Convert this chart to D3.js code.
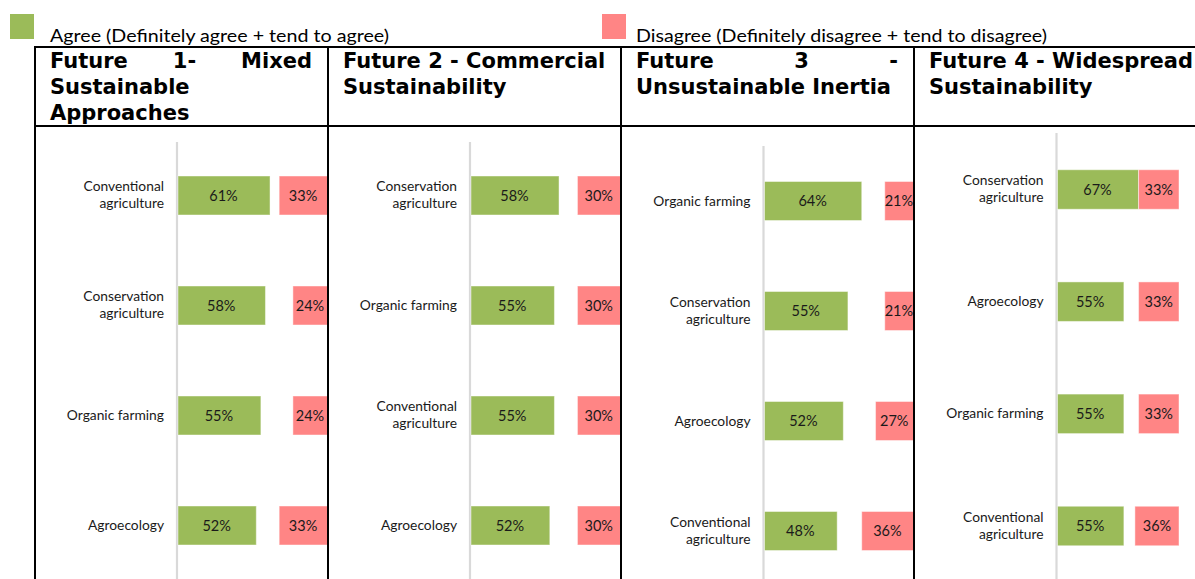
<!DOCTYPE html>
<html>
<head>
<meta charset="utf-8">
<script src="https://cdn.jsdelivr.net/npm/d3@7"></script>
<style>
  html, body { margin: 0; padding: 0; background: #fff; }
  svg { display: block; }
</style>
</head>
<body>
<svg id="chart" width="1195" height="579"></svg>
<script>
// ---------------- DATA ----------------
const seriesNames = ["Agree (Definitely agree + tend to agree)", "Disagree (Definitely disagree + tend to disagree)"];
const panelTitles = [
  ["Future 1- Mixed", "Sustainable", "Approaches"],
  ["Future 2 - Commercial", "Sustainability"],
  ["Future 3 -", "Unsustainable Inertia"],
  ["Future 4 - Widespread", "Sustainability"]
];
const justifiedFirstLine = [true, false, true, false];

const categories1 = ["Conventional agriculture", "Conservation agriculture", "Organic farming", "Agroecology"];
const agree1 = [61, 58, 55, 52];
const disagree1 = [33, 24, 24, 33];

const categories2 = ["Conservation agriculture", "Organic farming", "Conventional agriculture", "Agroecology"];
const agree2 = [58, 55, 55, 52];
const disagree2 = [30, 30, 30, 30];

const categories3 = ["Organic farming", "Conservation agriculture", "Agroecology", "Conventional agriculture"];
const agree3 = [64, 55, 52, 48];
const disagree3 = [21, 21, 27, 36];

const categories4 = ["Conservation agriculture", "Agroecology", "Organic farming", "Conventional agriculture"];
const agree4 = [67, 55, 55, 55];
const disagree4 = [33, 33, 33, 36];

// ---------------- LAYOUT ----------------
const W = 1195, H = 579;
const colors = { agree: "#9BBB59", disagree: "#FF8585", base: "#D9D9D9", text: "#1a1a1a" };
const tableTop = 47, headerBottom = 126;
const layout = [
  { x0: 35,  x1: 328,  base: 177,    full: 329.5, yTop: 195.5, yBot: 525.5, lineTop: 142, barH: 39 },
  { x0: 328, x1: 621,  base: 470,    full: 623.5, yTop: 195.5, yBot: 525.5, lineTop: 142, barH: 39 },
  { x0: 621, x1: 914,  base: 763.5,  full: 917,   yTop: 201,   yBot: 531,   lineTop: 146, barH: 39 },
  { x0: 914, x1: 1200, base: 1056.5, full: 1179,  yTop: 189.5, yBot: 526,   lineTop: 133, barH: 39.5 }
];
const panels = [
  { cats: categories1, agree: agree1, disagree: disagree1 },
  { cats: categories2, agree: agree2, disagree: disagree2 },
  { cats: categories3, agree: agree3, disagree: disagree3 },
  { cats: categories4, agree: agree4, disagree: disagree4 }
];

const svg = d3.select("#chart");
const labelFont = "Lato, 'Open Sans', sans-serif";
const headFont = "'DejaVu Sans', Verdana, sans-serif";

// ---------------- LEGEND ----------------
const legendItems = [
  { name: seriesNames[0], color: colors.agree, sx: 10, tx: 50, tw: 339 },
  { name: seriesNames[1], color: colors.disagree, sx: 602, tx: 636, tw: 411 }
];
const lg = svg.append("g");
lg.selectAll("rect").data(legendItems).join("rect")
  .attr("x", d => d.sx).attr("y", 14).attr("width", 24).attr("height", 25)
  .attr("fill", d => d.color);
lg.selectAll("text").data(legendItems).join("text")
  .attr("x", d => d.tx).attr("y", 42)
  .attr("font-family", labelFont).attr("font-size", 18)
  .attr("fill", "#000")
  .attr("textLength", d => d.tw).attr("lengthAdjust", "spacingAndGlyphs")
  .text(d => d.name);

// ---------------- PANELS ----------------
const defs = svg.append("defs");

layout.forEach((L, i) => {
  const P = panels[i];
  const g = svg.append("g");

  defs.append("clipPath").attr("id", "clip" + i)
    .append("rect").attr("x", L.x0 + 1).attr("y", headerBottom + 1)
    .attr("width", Math.min(L.x1, W) - L.x0 - 2).attr("height", H - headerBottom);

  const x = d3.scaleLinear().domain([0, 100]).range([L.base, L.full]);
  const y = d3.scalePoint().domain(P.cats).range([L.yTop, L.yBot]);

  const body = g.append("g").attr("clip-path", `url(#clip${i})`);

  body.append("line")
    .attr("x1", x(0)).attr("x2", x(0))
    .attr("y1", L.lineTop).attr("y2", H)
    .attr("stroke", colors.base).attr("stroke-width", 2.2);

  const rows = P.cats.map((c, k) => ({ cat: c, a: P.agree[k], d: P.disagree[k] }));

  body.selectAll("rect.agree").data(rows).join("rect").attr("class", "agree")
    .attr("x", x(0) + 1)
    .attr("y", d => y(d.cat) - L.barH / 2)
    .attr("width", d => x(d.a) - x(0) - 1)
    .attr("height", L.barH)
    .attr("fill", colors.agree)
    .attr("stroke", "#fff").attr("stroke-opacity", 0.45).attr("stroke-width", 1);

  body.selectAll("rect.dis").data(rows).join("rect").attr("class", "dis")
    .attr("x", d => x(100 - d.d))
    .attr("y", d => y(d.cat) - L.barH / 2)
    .attr("width", d => x(100) - x(100 - d.d))
    .attr("height", L.barH)
    .attr("fill", colors.disagree)
    .attr("stroke", "#fff").attr("stroke-opacity", 0.45).attr("stroke-width", 1);

  body.selectAll("text.av").data(rows).join("text").attr("class", "av")
    .attr("x", d => (x(0) + x(d.a)) / 2)
    .attr("y", d => y(d.cat) + 5)
    .attr("text-anchor", "middle")
    .attr("font-family", labelFont).attr("font-size", 14.5)
    .attr("fill", colors.text)
    .text(d => d.a + "%");
  body.selectAll("text.dv").data(rows).join("text").attr("class", "dv")
    .attr("x", d => {
      const right = Math.min(L.x1, W) - 1;
      return (x(100 - d.d) + Math.min(x(100), right)) / 2;
    })
    .attr("y", d => y(d.cat) + 5)
    .attr("text-anchor", "middle")
    .attr("font-family", labelFont).attr("font-size", 14.5)
    .attr("fill", colors.text)
    .text(d => d.d + "%");

  const lab = g.selectAll("text.cat").data(rows).join("text").attr("class", "cat")
    .attr("text-anchor", "end")
    .attr("font-family", labelFont).attr("font-size", 13.8)
    .attr("fill", colors.text);
  lab.each(function(d) {
    const t = d3.select(this);
    const parts = d.cat.endsWith(" agriculture") ? [d.cat.replace(" agriculture", ""), "agriculture"] : [d.cat];
    const cy = y(d.cat);
    if (parts.length === 1) {
      t.append("tspan").attr("x", x(0) - 13).attr("y", cy + 4.5).text(parts[0]);
    } else {
      t.append("tspan").attr("x", x(0) - 13).attr("y", cy - 4.5).text(parts[0]);
      t.append("tspan").attr("x", x(0) - 13).attr("y", cy + 12.5).text(parts[1]);
    }
  });

  const tx = L.x0 + 15;
  const tRight = L.x1 - 16;
  const baselines = [68, 94, 119.5];
  panelTitles[i].forEach((line, li) => {
    if (li === 0 && justifiedFirstLine[i]) {
      const words = line.split(" ");
      const tmp = words.map(w => g.append("text")
        .attr("font-family", headFont).attr("font-weight", "bold").attr("font-size", 21)
        .attr("fill", "#000").attr("y", baselines[li]).text(w));
      const widths = tmp.map(t => t.node().getComputedTextLength());
      const total = d3.sum(widths);
      const gap = (tRight - tx - total) / (words.length - 1);
      let cx = tx;
      tmp.forEach((t, k) => { t.attr("x", cx); cx += widths[k] + gap; });
    } else {
      g.append("text")
        .attr("x", tx).attr("y", baselines[li])
        .attr("font-family", headFont).attr("font-weight", "bold").attr("font-size", 21)
        .attr("fill", "#000").text(line);
    }
  });
});

// ---------------- TABLE GRID ----------------
const grid = svg.append("g").attr("stroke", "#000").attr("stroke-width", 2);
grid.append("line").attr("x1", 34).attr("x2", W).attr("y1", tableTop).attr("y2", tableTop);
grid.append("line").attr("x1", 34).attr("x2", W).attr("y1", headerBottom).attr("y2", headerBottom);
[35, 328, 621, 914].forEach(xx => {
  grid.append("line").attr("x1", xx).attr("x2", xx).attr("y1", tableTop - 1).attr("y2", H);
});
</script>
</body>
</html>
